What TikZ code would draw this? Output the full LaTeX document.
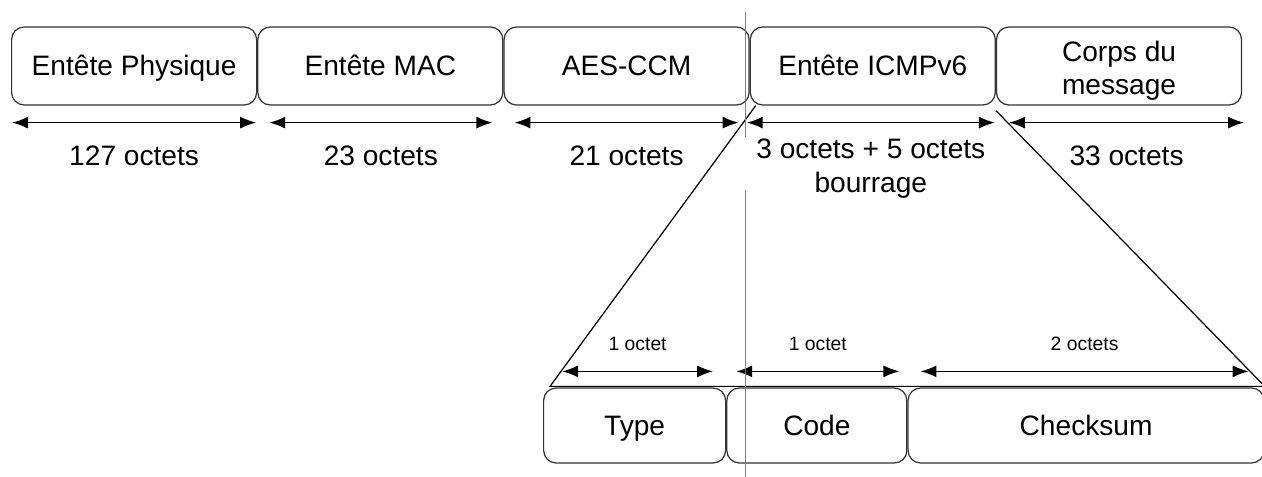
\documentclass[tikz,border=0pt]{standalone}
\usepackage{fontspec}
\setmainfont{Liberation Sans}
\usepackage{tikz}
\usetikzlibrary{positioning,arrows.meta}
\newcommand{\lowr}[1]{\raisebox{-0.1cm}[\height][\depth]{#1}}
\tikzstyle{fldbase}=[draw=black!80, line width=0.7pt, rounded corners=0.25cm, minimum height = 1.56cm, minimum width=4.9cm, inner sep=0pt, align=center, font=\fontsize{16}{19}\selectfont]
\tikzstyle{fld}=[fldbase, text height=2.6ex, text depth=0.45ex]
\tikzstyle{sub}=[draw=black!80, line width=0.7pt, rounded corners=0.25cm, minimum height = 1.5cm, inner sep=0pt, text height=2.5ex, text depth=0.45ex, font=\fontsize{16}{19}\selectfont]
\tikzstyle{dim}=[<->, line width=1pt]
\tikzstyle{lbl}=[align=center, font=\fontsize{16}{19}\selectfont]
\tikzstyle{slbl}=[font=\fontsize{11}{13}\selectfont]

\begin{document}
\begin{tikzpicture}[node distance=0cm,>={Latex[length=0.32cm,width=0.24cm]}]
\useasboundingbox (0,0) rectangle (25.24,-9.54);

% trame
\node[fld, anchor=west] at (0.22,-1.32) (phy) {Entête Physique};
\node[fld, right = 0cm of phy] (mac) {Entête MAC};
\node[fld, right = 0cm of mac] (aes) {AES-CCM};
\node[fld, right = 0cm of aes] (icmp) {Entête ICMPv6};
\node[fldbase, right = 0cm of icmp, minimum width=4.9cm] (corps) {\lowr{Corps du}\\\lowr{message}};

\draw[dim] ([xshift=0.02cm,yshift=-0.34cm]phy.south west) -- node[lbl, yshift=-0.66cm] (lphy) {127 octets} ([xshift=-0.02cm,yshift=-0.34cm]phy.south east);
\draw[dim] ([xshift=0.24cm,yshift=-0.34cm]mac.south west) -- node[lbl, yshift=-0.66cm] (lmac) {23 octets} ([xshift=-0.22cm,yshift=-0.34cm]mac.south east);
\draw[dim] ([xshift=0.22cm,yshift=-0.34cm]aes.south west) -- node[lbl, yshift=-0.66cm] (laes) {21 octets} ([xshift=-0.22cm,yshift=-0.34cm]aes.south east);
\draw[dim] ([xshift=-0.06cm,yshift=-0.34cm]icmp.south west) -- node[lbl, yshift=-0.92cm] (licmp) {3 octets + 5 octets\\bourrage} ([xshift=-0.02cm,yshift=-0.34cm]icmp.south east);
\draw[dim] ([xshift=0.26cm,yshift=-0.34cm]corps.south west) -- node[lbl, yshift=-0.66cm] (lcorps) {33 octets} ([xshift=0.04cm,yshift=-0.34cm]corps.south east);

% entete ICMPv6 detaille
\node[sub, minimum width=3.64cm, anchor=west] at (10.86,-8.51) (type) {Type};
\node[sub, minimum width=3.6cm, right = 0cm of type] (code) {Code};
\node[sub, minimum width=7.12cm, right = 0cm of code] (cks) {Checksum};

\draw[line width=0.7pt] ([xshift=0.12cm]icmp.south west) -- ([xshift=0.14cm,yshift=0.02cm]type.north west) -- ([yshift=0.02cm]cks.north east) -- ([yshift=-0.1cm]icmp.south east);

\draw[dim] ([xshift=0.38cm,yshift=0.32cm]type.north west) -- node[slbl, yshift=0.54cm] (ltype) {1 octet} ([xshift=-0.26cm,yshift=0.32cm]type.north east);
\draw[dim] ([xshift=0.2cm,yshift=0.32cm]code.north west) -- node[slbl, yshift=0.54cm] (lcode) {1 octet} ([xshift=-0.16cm,yshift=0.32cm]code.north east);
\draw[dim] ([xshift=0.26cm,yshift=0.32cm]cks.north west) -- node[slbl, yshift=0.56cm] (lcks) {2 octets} ([xshift=-0.32cm,yshift=0.32cm]cks.north east);

% trait vertical
\draw[gray, line width=0.5pt] (14.9,-0.24) -- (14.9,-2.74);
\draw[gray, line width=0.5pt] (14.9,-3.8) -- (14.9,-9.54);
\end{tikzpicture}
\end{document}
